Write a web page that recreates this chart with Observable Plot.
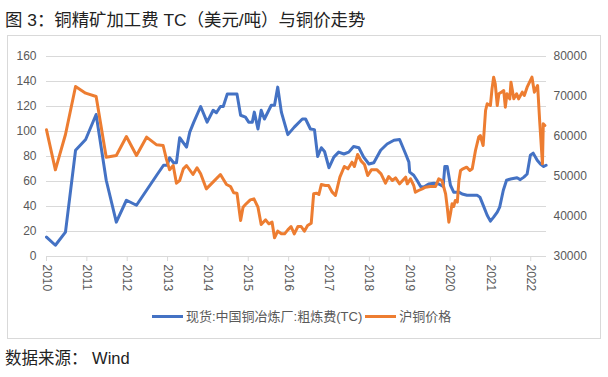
<!DOCTYPE html>
<html><head><meta charset="utf-8">
<script src="https://cdn.jsdelivr.net/npm/d3@7"></script>
<script src="https://cdn.jsdelivr.net/npm/@observablehq/plot@0.6"></script>
<style>
body{margin:0;background:#fff;}
#wrap{position:relative;width:608px;height:377px;overflow:hidden;font-family:"Liberation Sans","Noto Sans CJK SC",sans-serif;}
#title{position:absolute;left:5px;top:12px;font-size:17.4px;line-height:17.4px;color:#222;white-space:nowrap;}
#frame{position:absolute;left:7px;top:35px;width:592px;height:302px;border:1px solid #d9d9d9;}
#chart{position:absolute;left:0;top:40px;}
#legend{position:absolute;left:152px;top:309px;height:14px;display:flex;align-items:center;font-size:13px;line-height:13px;color:#595959;white-space:nowrap;}
#legend .sw{display:inline-block;width:31px;height:3px;margin-right:3px;}
#legend .lab{margin-right:3px;}
#source{position:absolute;left:5px;top:350px;font-size:16.5px;line-height:16.5px;color:#222;white-space:nowrap;}
</style></head>
<body>
<div id="wrap">
  <div id="title">图 3：铜精矿加工费 TC（美元/吨）与铜价走势</div>
  <div id="frame"></div>
  <div id="chart"></div>
  <div id="legend">
    <span class="sw" style="background:#4472C4"></span><span class="lab">现货:中国铜冶炼厂:粗炼费(TC)</span>
    <span class="sw" style="background:#ED7D31"></span><span class="lab">沪铜价格</span>
  </div>
  <div id="source">数据来源：&nbsp;Wind</div>
</div>
<script>
const tcDates = [
  2010.00,2010.22,2010.47,2010.72,2010.97,2011.23,2011.48,2011.73,2011.98,2012.23,
  2012.48,2012.73,2012.90,2012.99,2013.05,2013.15,2013.22,2013.30,2013.47,2013.55,
  2013.65,2013.82,2013.98,2014.13,2014.21,2014.31,2014.38,2014.48,2014.72,2014.81,
  2014.93,2015.01,2015.10,2015.15,2015.24,2015.32,2015.40,2015.57,2015.65,2015.73,
  2015.82,2015.98,2016.14,2016.34,2016.42,2016.54,2016.64,2016.72,2016.81,2016.89,
  2017.00,2017.12,2017.24,2017.37,2017.49,2017.61,2017.74,2017.86,2017.99,2018.11,
  2018.28,2018.44,2018.61,2018.75,2018.90,2018.98,2019.00,2019.10,2019.18,2019.27,
  2019.35,2019.47,2019.60,2019.72,2019.83,2019.87,2019.93,2020.01,2020.09,2020.22,
  2020.30,2020.42,2020.67,2020.74,2020.84,2020.92,2021.00,2021.08,2021.17,2021.23,
  2021.32,2021.40,2021.50,2021.66,2021.74,2021.83,2021.91,2021.99,2022.06,2022.16,
  2022.24,2022.32,2022.38
];
const tcValues = [
  15.5,9,19.5,85,93.6,113.6,61,27.5,45,41,
  53,65,73,73,79,75,75,95,87.5,99.5,
  107.5,120,107.5,117,115,120,120,130,130,113,
  111.5,107.5,107.5,115.5,102,117,110,121,121,135.5,
  115.5,97.5,103.5,110,110,102,101.5,80,87,84,
  71,79.5,83.5,82,83.5,88,87,79.5,74,75,
  85,90,93,93.6,82,75.5,67.5,65,61,56,
  55.5,58,58.6,58,56,72,72,57,51.5,51.5,
  50,49,49,47.5,39.5,33,28.3,31.5,35.5,39.5,
  53,61,62,63,61.5,63.5,66,81,82.7,77,
  74,72,73
];
const cuDates = [
  2010.00,2010.22,2010.47,2010.72,2010.97,2011.23,2011.48,2011.73,2011.98,2012.23,
  2012.48,2012.73,2012.89,2012.97,2013.05,2013.14,2013.22,2013.30,2013.39,2013.47,
  2013.63,2013.73,2013.82,2013.96,2014.15,2014.31,2014.46,2014.56,2014.64,2014.72,
  2014.81,2014.87,2014.93,2015.05,2015.14,2015.24,2015.32,2015.43,2015.51,2015.59,
  2015.65,2015.73,2015.82,2015.90,2015.98,2016.06,2016.14,2016.23,2016.31,2016.39,
  2016.47,2016.56,2016.62,2016.69,2016.75,2016.81,2016.91,2016.99,2017.08,2017.16,
  2017.27,2017.38,2017.47,2017.57,2017.63,2017.71,2017.80,2017.88,2017.96,2018.05,
  2018.19,2018.29,2018.40,2018.48,2018.57,2018.65,2018.75,2018.90,2018.94,2019.02,
  2019.10,2019.14,2019.22,2019.31,2019.39,2019.51,2019.64,2019.72,2019.80,2019.84,
  2019.89,2019.93,2019.97,2020.01,2020.05,2020.09,2020.13,2020.18,2020.22,2020.26,
  2020.32,2020.41,2020.49,2020.55,2020.63,2020.71,2020.75,2020.82,2020.88,2020.92,
  2021.00,2021.04,2021.08,2021.12,2021.17,2021.21,2021.27,2021.33,2021.37,2021.41,
  2021.48,2021.51,2021.58,2021.65,2021.70,2021.79,2021.84,2021.91,2021.97,2022.03,
  2022.09,2022.17,2022.22,2022.26,2022.29,2022.31,2022.35
];
const cuValues = [
  61667,51667,60500,72500,70833,70000,54833,55250,60000,55250,
  59833,57917,57750,54417,51667,52750,48333,49000,51917,52750,
  50500,52167,50667,46917,48833,50500,48000,47500,45917,45833,
  39000,42333,43000,44167,44417,42333,38000,39167,38167,38583,
  34667,36333,35667,35667,36667,37500,35667,37500,37500,36333,
  37750,38333,45667,45833,45500,48000,47750,47750,46083,45250,
  49833,52500,51917,53583,52500,55500,53833,53000,50250,51667,
  51667,50667,48333,50000,49000,49667,48167,49833,48167,49417,
  47750,46083,46500,46917,47333,47500,47500,49417,49000,47500,
  45667,42333,38583,40667,43167,42500,44000,43583,49000,51500,
  51917,52333,51500,51917,56500,59833,60250,57750,66500,68167,
  67750,71917,74833,73167,67750,70667,71083,71500,67333,70667,
  69417,73583,69417,70667,69417,71083,70250,72333,73583,74833,
  71083,72750,64000,57750,53167,63167,62750
];
const leftTicks = [0,20,40,60,80,100,120,140,160];
const rightTicks = [30000,40000,50000,60000,70000,80000];
const yearTicks = [2010,2011,2012,2013,2014,2015,2016,2017,2018,2019,2020,2021,2022];

const toLeft = d3.scaleLinear().domain([30000, 80000]).range([0, 160]);
const tc = tcDates.map((d, i) => ({date: d, value: tcValues[i]}));
const cu = cuDates.map((d, i) => ({date: d, value: toLeft(cuValues[i])}));

const chart = Plot.plot({
  width: 608, height: 260,
  marginTop: 16, marginBottom: 44, marginLeft: 46, marginRight: 62,
  x: {domain: [2010, 2022.39]},
  y: {domain: [0, 160]},
  style: {fontFamily: "'Liberation Sans','Noto Sans CJK SC',sans-serif", fontSize: "12px", color: "#595959", background: "transparent", overflow: "visible"},
  marks: [
    Plot.ruleY(leftTicks.filter(d => d > 0), {stroke: "#d9d9d9", strokeWidth: 1}),
    Plot.ruleY([0], {stroke: "#d9d9d9", strokeWidth: 1}),
    Plot.axisX(yearTicks, {tickRotate: 90, tickSize: 5, tickPadding: 3, tickFormat: d => String(d), stroke: "#d9d9d9", label: null}),
    Plot.axisY(leftTicks, {anchor: "left", tickSize: 0, tickPadding: 10, label: null}),
    Plot.axisY(rightTicks.map(toLeft), {anchor: "right", tickSize: 0, tickPadding: 7, tickFormat: d => String(Math.round(toLeft.invert(d))), label: null}),
    Plot.line(tc, {x: "date", y: "value", stroke: "#4472C4", strokeWidth: 3}),
    Plot.line(cu, {x: "date", y: "value", stroke: "#ED7D31", strokeWidth: 3})
  ]
});
document.getElementById("chart").appendChild(chart);
</script>
</body></html>
